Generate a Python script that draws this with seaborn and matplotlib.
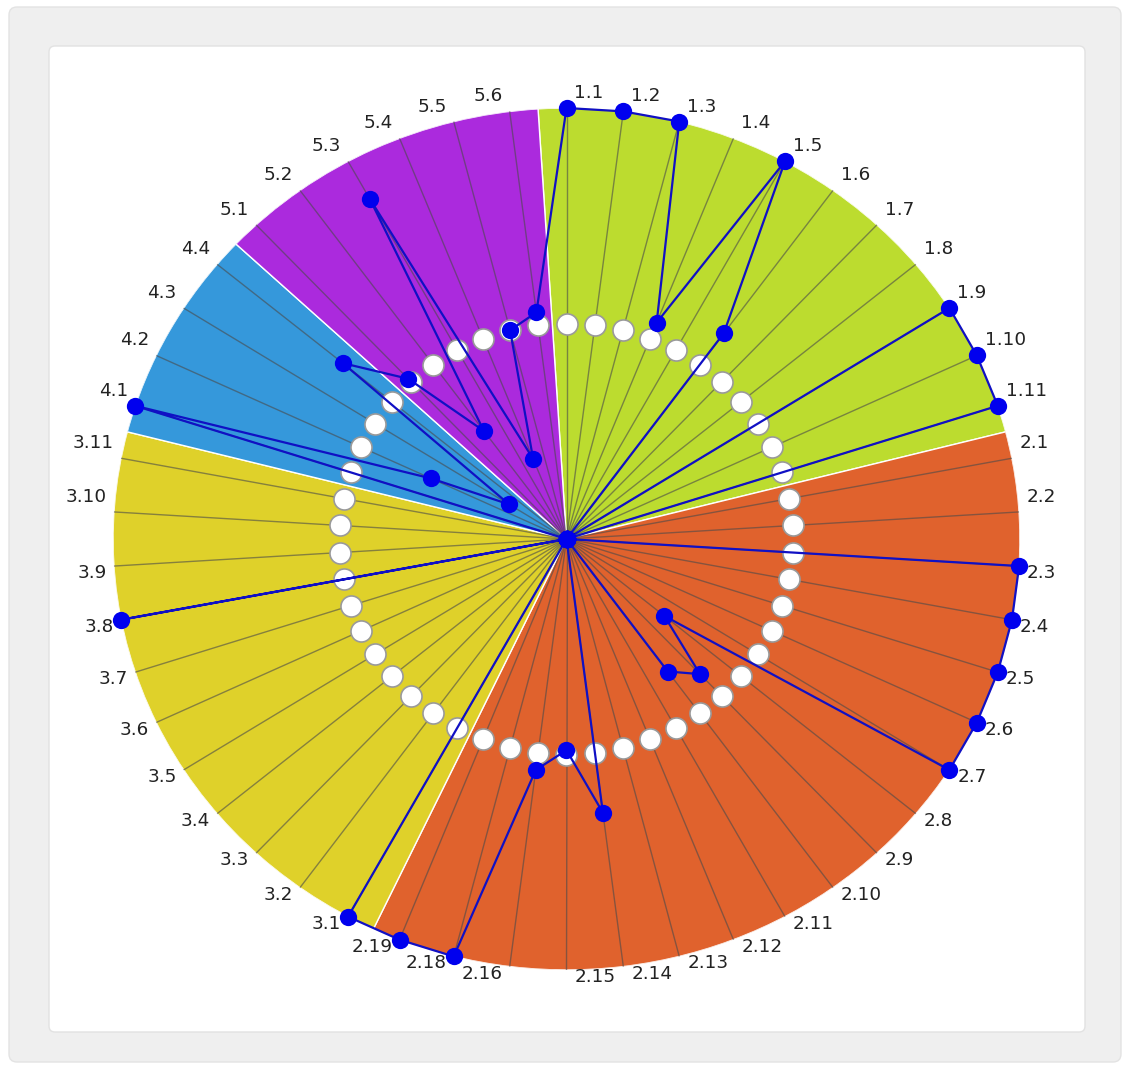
import numpy as np
import matplotlib
matplotlib.use("Agg")
import matplotlib.pyplot as plt
import seaborn as sns
from matplotlib.patches import FancyBboxPatch
from matplotlib.transforms import offset_copy

# --- dados ---
labels = (
    [f"1.{i}" for i in range(1, 12)]
    + [f"2.{i}" for i in range(1, 17)] + ["2.18", "2.19"]
    + [f"3.{i}" for i in range(1, 12)]
    + [f"4.{i}" for i in range(1, 5)]
    + [f"5.{i}" for i in range(1, 7)]
)
values = [
    100, 100, 100, 54, 100, 59, 0, 0, 100, 100, 100,                      # grupo 1
    0, 0, 100, 100, 100, 100, 100, 28, 43, 38, 0, 0, 0, 64, 49, 54, 100, 100,  # grupo 2
    100, 0, 0, 0, 0, 0, 0, 100, 0, 0, 0,                                   # grupo 3
    100, 33, 15, 64,                                                       # grupo 4
    51, 31, 90, 20, 50, 53,                                                # grupo 5
]
group_sizes = [11, 18, 11, 4, 6]
group_colors = ["#BCDC2F", "#E0622D", "#DFD12A", "#3598DB", "#AB2ADD"]
ring_value = 50

sns.set_theme(style="white")
plt.rcParams["font.family"] = ["DejaVu Sans"]

W, H = 1126, 1066
fig = plt.figure(figsize=(W / 100, H / 100), dpi=100)
fig.patch.set_facecolor("white")

# fundo: moldura cinza + painel branco
bg = fig.add_axes([0, 0, 1, 1], zorder=0)
bg.set_xlim(0, W)
bg.set_ylim(H, 0)
bg.axis("off")
bg.add_patch(FancyBboxPatch((9, 7), 1112, 1055, boxstyle="round,pad=0,rounding_size=8",
                            fc="#efefef", ec="#e3e3e3", lw=1))
bg.add_patch(FancyBboxPatch((49, 46), 1036, 986, boxstyle="round,pad=0,rounding_size=6",
                            fc="white", ec="#e2e2e2", lw=1))

# eixo polar (levemente esticado na horizontal, como na referência)
cx, cy, rx, ry = 566.5, 539, 453.5, 431
ax = fig.add_axes([(cx - rx) / W, (H - cy - ry) / H, 2 * rx / W, 2 * ry / H],
                  projection="polar", zorder=1)
ax.set_aspect("auto")
ax.set_theta_zero_location("N")
ax.set_theta_direction(-1)
ax.patch.set_alpha(0)
ax.spines["polar"].set_visible(False)

n = len(labels)
step = 2 * np.pi / n
theta = np.arange(n) * step

# setores coloridos por grupo
starts = np.cumsum([0] + group_sizes[:-1])
centers = [(s + (g - 1) / 2) * step for s, g in zip(starts, group_sizes)]
widths = [g * step for g in group_sizes]
ax.bar(centers, [100] * len(group_sizes), width=widths, color=group_colors,
       edgecolor="white", linewidth=1, zorder=1)

# raios (um por categoria)
ax.set_xticks(theta)
ax.set_xticklabels([])
ax.set_yticks([])
ax.tick_params(length=0)
ax.xaxis.grid(True, color="#4a4a4a", alpha=0.6, lw=1)
ax.yaxis.grid(False)
ax.set_axisbelow(False)
ax.set_ylim(0, 100)

# anel de referência (círculos brancos)
sns.scatterplot(x=theta, y=[ring_value] * n, ax=ax, s=230, color="white",
                edgecolor="#9a9a9a", linewidth=1.2, zorder=4, legend=False, clip_on=False)

# série
th_closed = np.append(theta, 2 * np.pi)
v_closed = values + [values[0]]
sns.lineplot(x=th_closed, y=v_closed, ax=ax, sort=False, estimator=None,
             color="#1010c4", lw=1.6, zorder=5, clip_on=False)
sns.scatterplot(x=theta, y=values, ax=ax, s=155, color="#0000ee", linewidth=0,
                zorder=6, legend=False, clip_on=False)

# rótulos das categorias
for k, (t, lab) in enumerate(zip(theta, labels)):
    deg = k * 360 / n
    right = deg <= 180
    upper = deg < 90 or deg > 270
    dx = 8 if right else -7
    dy = 15 if upper else -7
    trans = offset_copy(ax.transData, fig=fig, x=dx, y=dy, units="dots")
    ax.text(t, 100, lab, transform=trans, ha="left" if right else "right",
            va="center", fontsize=13.2, color="#222222", clip_on=False)

ax.set_xlabel("")
ax.set_ylabel("")
fig.savefig("out.png", dpi=100)
